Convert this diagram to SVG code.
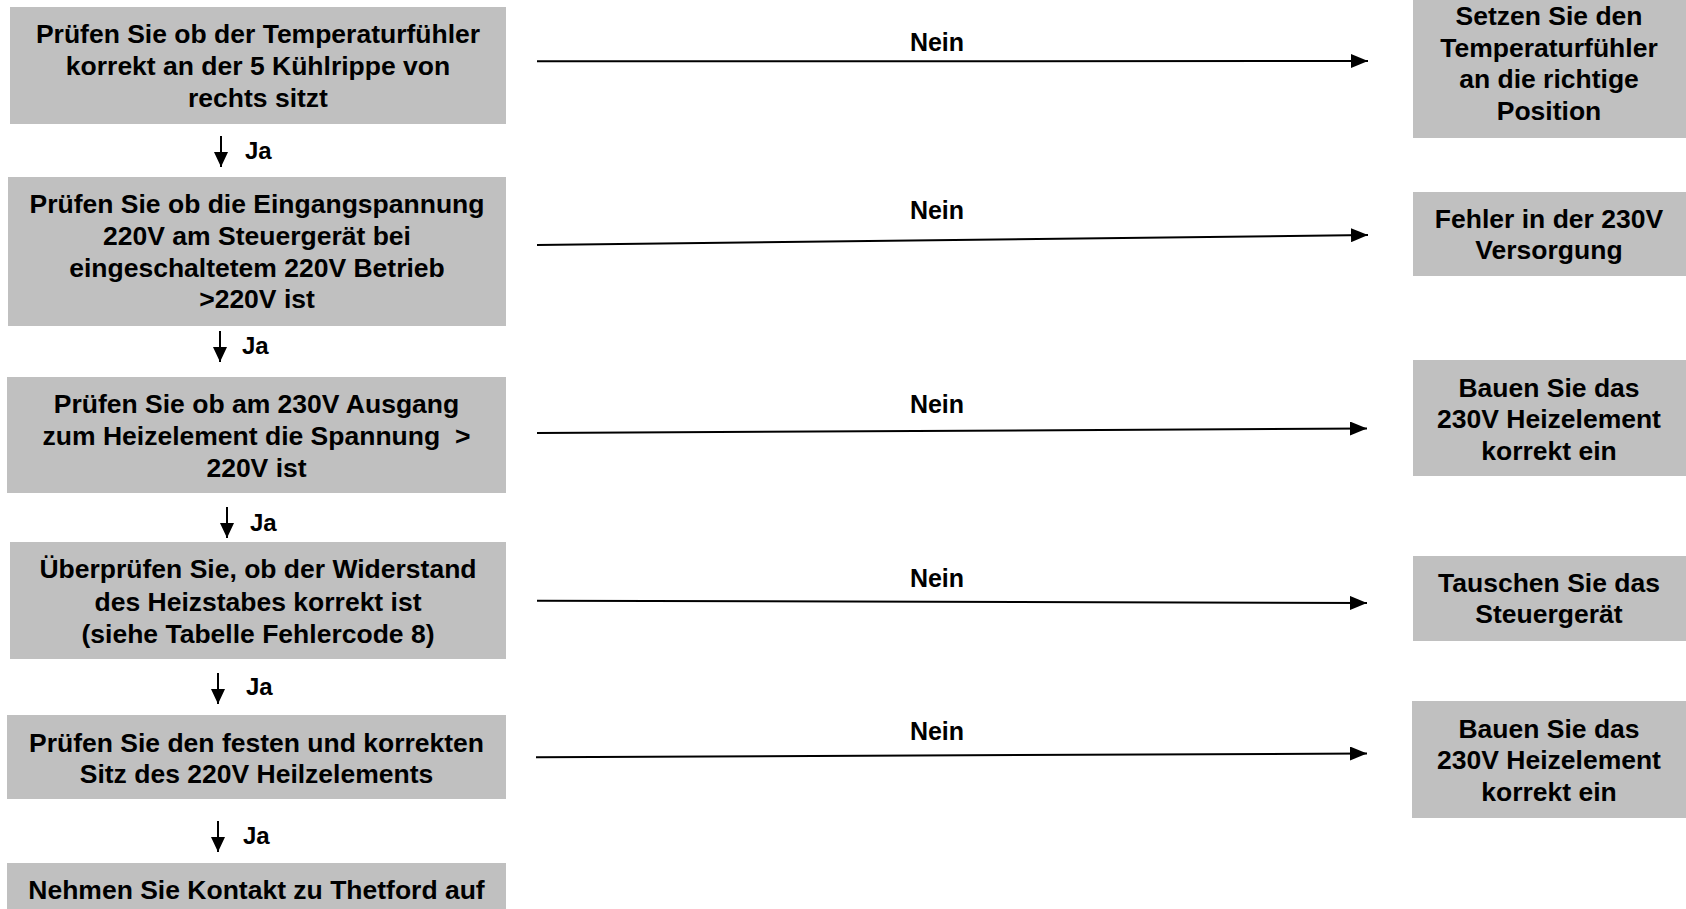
<svg xmlns="http://www.w3.org/2000/svg" width="1686" height="909" viewBox="0 0 1686 909">
<style>
.box{fill:#c0c0c0;}
.t{font-family:"Liberation Sans",Arial,sans-serif;font-weight:bold;font-size:26.5px;fill:#000;text-anchor:middle;}
.lbl{font-family:"Liberation Sans",Arial,sans-serif;font-weight:bold;font-size:25px;fill:#000;}
.ja{font-family:"Liberation Sans",Arial,sans-serif;font-weight:bold;font-size:24px;fill:#000;}
.h{stroke:#000;stroke-width:2;fill:none;marker-end:url(#ah);}
.v{stroke:#000;stroke-width:2;fill:none;marker-end:url(#av);}
</style>
<defs>
<marker id="ah" markerUnits="userSpaceOnUse" markerWidth="18" markerHeight="14" refX="17" refY="7" orient="auto"><path d="M0,0 L17,7 L0,14 z" fill="#000"/></marker>
<marker id="av" markerUnits="userSpaceOnUse" markerWidth="16" markerHeight="14" refX="15" refY="7" orient="auto"><path d="M0,0 L15,7 L0,14 z" fill="#000"/></marker>
</defs>
<rect width="1686" height="909" fill="#fff"/>

<g id="n1">
<rect class="box" x="10" y="7" width="496" height="117"/>
<text class="t" x="258" y="43">Prüfen Sie ob der Temperaturfühler</text>
<text class="t" x="258" y="75">korrekt an der 5 Kühlrippe von</text>
<text class="t" x="258" y="107">rechts sitzt</text>
</g>
<g id="n2">
<rect class="box" x="8" y="177" width="498" height="149"/>
<text class="t" x="257" y="213">Prüfen Sie ob die Eingangspannung</text>
<text class="t" x="257" y="245">220V am Steuergerät bei</text>
<text class="t" x="257" y="277">eingeschaltetem 220V Betrieb</text>
<text class="t" x="257" y="308">&gt;220V ist</text>
</g>
<g id="n3">
<rect class="box" x="7" y="377" width="499" height="116"/>
<text class="t" x="256.5" y="413">Prüfen Sie ob am 230V Ausgang</text>
<text class="t" x="256.5" y="445" xml:space="preserve">zum Heizelement die Spannung  &gt;</text>
<text class="t" x="256.5" y="477">220V ist</text>
</g>
<g id="n4">
<rect class="box" x="10" y="542" width="496" height="117"/>
<text class="t" x="258" y="578">Überprüfen Sie, ob der Widerstand</text>
<text class="t" x="258" y="611">des Heizstabes korrekt ist</text>
<text class="t" x="258" y="643">(siehe Tabelle Fehlercode 8)</text>
</g>
<g id="n5">
<rect class="box" x="7" y="715" width="499" height="84"/>
<text class="t" x="256.5" y="752">Prüfen Sie den festen und korrekten</text>
<text class="t" x="256.5" y="783">Sitz des 220V Heilzelements</text>
</g>
<g id="n6">
<rect class="box" x="7" y="863" width="499" height="50"/>
<text class="t" x="256.5" y="899">Nehmen Sie Kontakt zu Thetford auf</text>
</g>

<g id="r1">
<rect class="box" x="1413" y="-5" width="273" height="143"/>
<text class="t" x="1549" y="25">Setzen Sie den</text>
<text class="t" x="1549" y="57">Temperaturfühler</text>
<text class="t" x="1549" y="88">an die richtige</text>
<text class="t" x="1549" y="120">Position</text>
</g>
<g id="r2">
<rect class="box" x="1413" y="192" width="273" height="84"/>
<text class="t" x="1549" y="228">Fehler in der 230V</text>
<text class="t" x="1549" y="259">Versorgung</text>
</g>
<g id="r3">
<rect class="box" x="1413" y="360" width="273" height="116"/>
<text class="t" x="1549" y="397">Bauen Sie das</text>
<text class="t" x="1549" y="428">230V Heizelement</text>
<text class="t" x="1549" y="460">korrekt ein</text>
</g>
<g id="r4">
<rect class="box" x="1413" y="556" width="273" height="85"/>
<text class="t" x="1549" y="592">Tauschen Sie das</text>
<text class="t" x="1549" y="623">Steuergerät</text>
</g>
<g id="r5">
<rect class="box" x="1412" y="701" width="274" height="117"/>
<text class="t" x="1549" y="738">Bauen Sie das</text>
<text class="t" x="1549" y="769">230V Heizelement</text>
<text class="t" x="1549" y="801">korrekt ein</text>
</g>

<g id="connectors">
<line class="h" x1="537" y1="61.3" x2="1368" y2="61"/>
<line class="h" x1="537" y1="245" x2="1368" y2="235"/>
<line class="h" x1="537" y1="433" x2="1367" y2="428.5"/>
<line class="h" x1="537" y1="600.7" x2="1367" y2="603"/>
<line class="h" x1="536" y1="757.3" x2="1367" y2="753.5"/>
<text class="lbl" x="937" y="51" text-anchor="middle">Nein</text>
<text class="lbl" x="937" y="219" text-anchor="middle">Nein</text>
<text class="lbl" x="937" y="413" text-anchor="middle">Nein</text>
<text class="lbl" x="937" y="587" text-anchor="middle">Nein</text>
<text class="lbl" x="937" y="740" text-anchor="middle">Nein</text>

<line class="v" x1="221" y1="136" x2="221" y2="167"/>
<line class="v" x1="220" y1="331" x2="220" y2="362"/>
<line class="v" x1="227" y1="507" x2="227" y2="538"/>
<line class="v" x1="218" y1="673" x2="218" y2="704"/>
<line class="v" x1="218" y1="821" x2="218" y2="852"/>
<text class="ja" x="245" y="159">Ja</text>
<text class="ja" x="242" y="354">Ja</text>
<text class="ja" x="250" y="531">Ja</text>
<text class="ja" x="246" y="695">Ja</text>
<text class="ja" x="243" y="844">Ja</text>
</g>
</svg>
